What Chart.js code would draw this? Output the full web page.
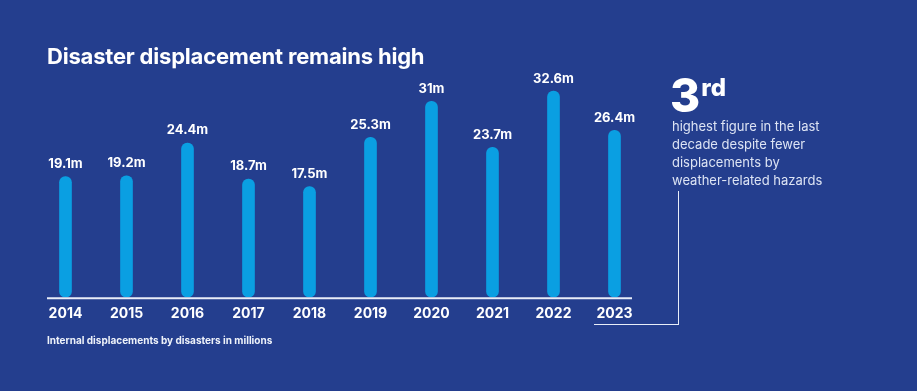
<!DOCTYPE html>
<html>
<head>
<meta charset="utf-8">
<script src="https://cdn.jsdelivr.net/npm/chart.js@4"></script>
<style>
  body { margin: 0; background: #243e8e; }
  #wrap { position: relative; width: 917px; height: 391px; background: #243e8e; overflow: hidden;
          font-family: "Inter", "Noto Sans", sans-serif; color: #fff; }
  #chart { position: absolute; left: 0; top: 0; }
  .title { position: absolute; left: 47px; top: 43px; font-size: 22px; font-weight: 700; letter-spacing: -0.2px; }
  .caption { position: absolute; left: 47px; top: 334px; font-size: 10px; font-weight: 700; color: #eef2fa; }
  .big { position: absolute; left: 670px; top: 63px; font-size: 46px; font-weight: 800; line-height: 50px; }
  .big sup { font-size: 24px; vertical-align: 16px; margin-left: 1px; }
  .note { position: absolute; left: 672px; top: 117px; font-size: 13px; line-height: 18px; color: #dde4f4; width: 200px; }
  .connector { position: absolute; left: 594px; top: 191px; width: 84px; height: 133px;
               border-right: 1px solid #e8edf8; border-bottom: 1px solid #e8edf8; }
</style>
</head>
<body>
<div id="wrap">
  <canvas id="chart" width="917" height="391"></canvas>
  <div class="title">Disaster displacement remains high</div>
  <div class="caption">Internal displacements by disasters in millions</div>
  <div class="big">3<sup>rd</sup></div>
  <div class="note">highest figure in the last<br>decade despite fewer<br>displacements by<br>weather-related hazards</div>
  <div class="connector"></div>
</div>
<script>
// годы и внутренние перемещения (млн)
const years = ["2014", "2015", "2016", "2017", "2018", "2019", "2020", "2021", "2022", "2023"];
const displacements = [19.1, 19.2, 24.4, 18.7, 17.5, 25.3, 31, 23.7, 32.6, 26.4];

// подписи над столбцами и базовая линия
const barLabels = {
  id: "barLabels",
  afterDatasetsDraw(chart) {
    const ctx = chart.ctx;
    const meta = chart.getDatasetMeta(0);
    ctx.save();
    ctx.fillStyle = "#ffffff";
    ctx.font = "700 13px Inter, 'Noto Sans', sans-serif";
    ctx.textAlign = "center";
    ctx.textBaseline = "bottom";
    meta.data.forEach((bar, i) => {
      ctx.fillText(displacements[i] + "m", bar.x, bar.y - 6);
    });
    const area = chart.chartArea;
    ctx.strokeStyle = "#e8edf8";
    ctx.lineWidth = 2;
    ctx.beginPath();
    ctx.moveTo(area.left + 12, area.bottom + 1);
    ctx.lineTo(area.right - 13, area.bottom + 1);
    ctx.stroke();
    ctx.restore();
  },
};

new Chart(document.getElementById("chart"), {
  type: "bar",
  data: {
    labels: years,
    datasets: [
      {
        data: displacements,
        backgroundColor: "#0a9fe2",
        barThickness: 12,
        borderRadius: 6,
        borderSkipped: false,
      },
    ],
  },
  options: {
    responsive: false,
    animation: false,
    layout: { padding: { left: 35, right: 272, top: 76, bottom: 69 } },
    plugins: { legend: { display: false }, tooltip: { enabled: false } },
    scales: {
      x: {
        grid: { display: false },
        border: { display: false },
        ticks: {
          color: "#ffffff",
          font: { family: "Inter, 'Noto Sans', sans-serif", size: 14, weight: "700" },
          padding: 0,
        },
      },
      y: { display: false, min: 0, max: 35 },
    },
  },
  plugins: [barLabels],
});
</script>
</body>
</html>
